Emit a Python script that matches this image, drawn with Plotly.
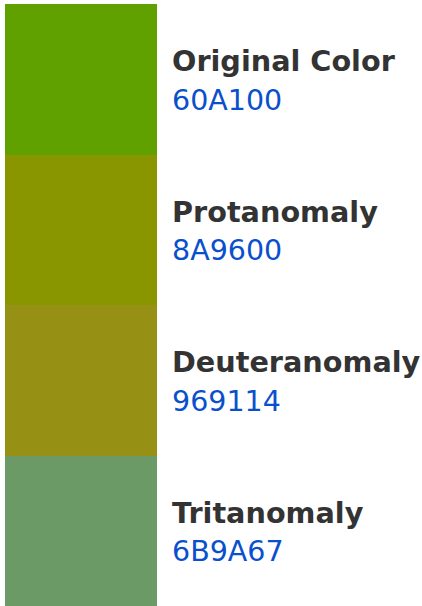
import plotly.graph_objects as go

names = ["Original Color", "Protanomaly", "Deuteranomaly", "Tritanomaly"]
hex_codes = ["60A100", "8A9600", "969114", "6B9A67"]

W, H = 422, 606
top, bottom = 4, 606
seg = (bottom - top) / len(names)

fig = go.Figure()
for i, (n, h) in enumerate(zip(names, hex_codes)):
    fig.add_trace(go.Bar(
        x=[81], y=[seg], base=[top + i * seg], width=[152],
        marker=dict(color="#" + h, line=dict(width=0)),
        showlegend=False, hoverinfo="skip",
    ))
    c = top + i * seg + seg / 2
    fig.add_annotation(x=170, y=c - 18, text="<b>" + n + "</b>", showarrow=False,
                       xanchor="left", yanchor="middle",
                       font=dict(family="DejaVu Sans", size=28.7, color="#333333"))
    fig.add_annotation(x=170, y=c + 21, text=h, showarrow=False,
                       xanchor="left", yanchor="middle",
                       font=dict(family="DejaVu Sans", size=28.5, color="#0a50cc"))

fig.update_layout(
    width=W, height=H, margin=dict(l=0, r=0, t=0, b=0),
    paper_bgcolor="white", plot_bgcolor="white", bargap=0,
    xaxis=dict(range=[0, W], visible=False, fixedrange=True),
    yaxis=dict(range=[H, 0], visible=False, fixedrange=True),
)
fig.write_html("out.html", config={"displayModeBar": False},
               post_script="document.body.style.margin='0';document.body.style.overflow='hidden';")
